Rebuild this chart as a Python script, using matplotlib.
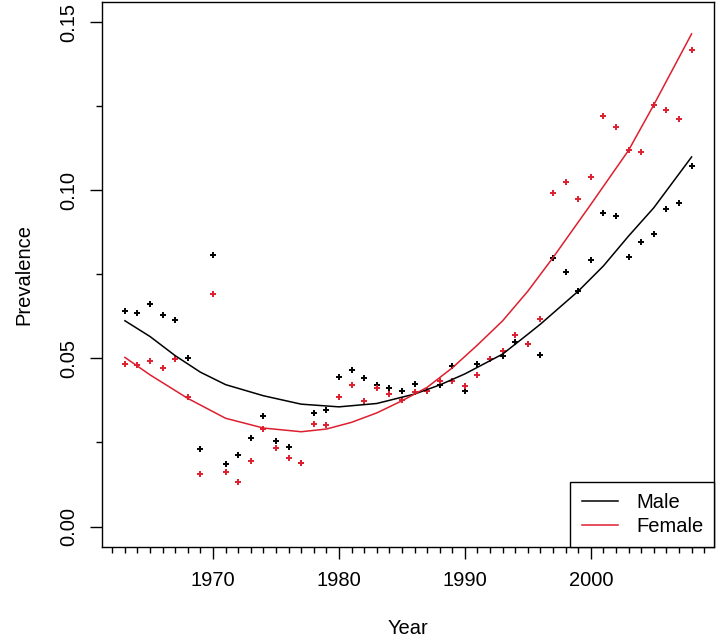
import matplotlib
matplotlib.use('Agg')
import matplotlib.pyplot as plt
import numpy as np

plt.rcParams['font.family'] = ['Liberation Sans', 'DejaVu Sans']

# yearly prevalence
years = list(range(1963, 2009))
male = [0.0640, 0.0635, 0.0663, 0.0630, 0.0613, 0.0500, 0.0231, 0.0807, 0.0185, 0.0213,
        0.0264, 0.0329, 0.0255, 0.0236, 0.0190, 0.0338, 0.0348, 0.0446, 0.0465, 0.0441,
        0.0422, 0.0413, 0.0403, 0.0423, 0.0404, 0.0421, 0.0478, 0.0403, 0.0482, 0.0498,
        0.0506, 0.0548, 0.0543, 0.0510, 0.0798, 0.0757, 0.0700, 0.0794, 0.0933, 0.0924,
        0.0803, 0.0845, 0.0869, 0.0943, 0.0961, 0.1071]
female = [0.0482, 0.0481, 0.0491, 0.0473, 0.0498, 0.0384, 0.0156, 0.0691, 0.0161, 0.0133,
          0.0195, 0.0289, 0.0235, 0.0204, 0.0189, 0.0306, 0.0301, 0.0385, 0.0422, 0.0372,
          0.0411, 0.0393, 0.0376, 0.0401, 0.0403, 0.0433, 0.0433, 0.0418, 0.0450, 0.0499,
          0.0521, 0.0571, 0.0543, 0.0617, 0.0993, 0.1026, 0.0974, 0.1040, 0.1221, 0.1188,
          0.1119, 0.1115, 0.1254, 0.1239, 0.1212, 0.1417]

# fitted curves
fit_years_m = [1963, 1965, 1967, 1969, 1971, 1974, 1977, 1980, 1983, 1986, 1988, 1990,
               1993, 1995, 1996, 1999, 2001, 2003, 2005, 2008]
fit_male = [0.0612, 0.0565, 0.0508, 0.0459, 0.0422, 0.0389, 0.0364, 0.0356, 0.0366, 0.0394,
            0.0421, 0.0454, 0.0513, 0.0572, 0.0602, 0.0700, 0.0775, 0.0864, 0.0948, 0.1099]
fit_years_f = [1963, 1965, 1968, 1971, 1974, 1977, 1979, 1981, 1983, 1985, 1987, 1989,
               1991, 1993, 1995, 1997, 2000, 2003, 2005, 2008]
fit_female = [0.0503, 0.0451, 0.0381, 0.0322, 0.0293, 0.0282, 0.0290, 0.0310, 0.0338, 0.0374,
              0.0414, 0.0472, 0.0540, 0.0612, 0.0700, 0.0800, 0.0958, 0.1119, 0.1254, 0.1465]

red = '#dd1f2f'

fig = plt.figure(figsize=(7.2, 6.44), dpi=100)
ax = fig.add_axes([0.142, 0.151, 0.850, 0.846])

ax.plot(years, male, '+', color='black', ms=5, mew=1.4)
ax.plot(years, female, '+', color=red, ms=5, mew=1.4)
ax.plot(fit_years_m, fit_male, color='black', lw=1.1, label='Male')
ax.plot(fit_years_f, fit_female, color=red, lw=1.1, label='Female')

ax.set_xlim(1961.2, 2009.8)
ax.set_ylim(-0.006, 0.156)

ax.set_xticks([1970, 1980, 1990, 2000])
ax.set_xticks(range(1962, 2010), minor=True)
ax.set_yticks([0.0, 0.05, 0.10, 0.15])
ax.set_yticklabels(['0.00', '0.05', '0.10', '0.15'], rotation=90, va='center')
ax.set_yticks([0.025, 0.075, 0.125], minor=True)

ax.tick_params(which='major', length=8.6, width=1, pad=9, labelsize=14.5)
ax.tick_params(which='minor', length=4.3, width=1)
for s in ax.spines.values():
    s.set_linewidth(1)

ax.set_xlabel('Year', fontsize=14.5, labelpad=21)
ax.set_ylabel('Prevalence', fontsize=14.5, labelpad=18)

leg = ax.legend(loc='lower right', borderaxespad=0, fancybox=False, edgecolor='black',
                framealpha=1, fontsize=14.5, handlelength=1.8, handletextpad=0.9,
                borderpad=0.55, labelspacing=0.25)
leg.get_frame().set_linewidth(1)

plt.savefig('out.png', dpi=100)
